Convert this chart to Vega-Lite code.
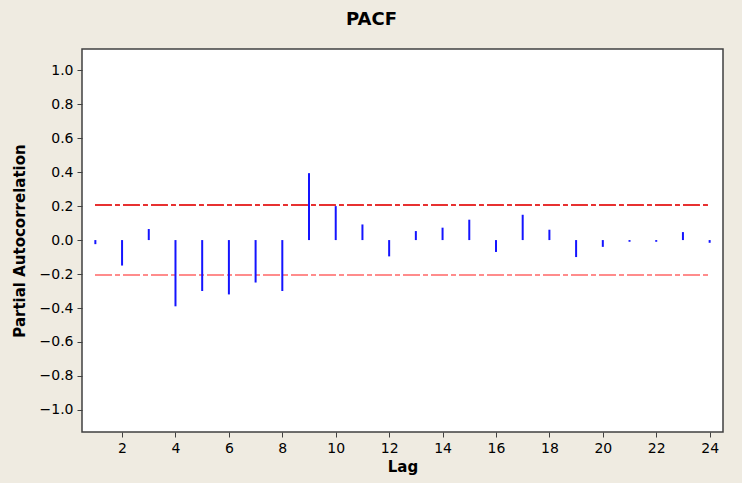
{
  "$schema": "https://vega.github.io/schema/vega-lite/v6.json",
  "width": 641,
  "height": 383,
  "autosize": "none",
  "padding": {"left": 82, "top": 49, "right": 19, "bottom": 51},
  "background": "#efebe1",
  "title": {"text": "PACF", "fontSize": 18, "font": "DejaVu Sans", "fontWeight": "bold", "color": "#000000", "dx": -31, "offset": 20},
  "config": {
    "view": {"fill": "#ffffff", "stroke": "#404040", "strokeWidth": 1.5},
    "axis": {"labelFont": "DejaVu Sans", "titleFont": "DejaVu Sans", "labelColor": "#000000", "titleColor": "#000000", "tickColor": "#404040", "domainColor": "#404040", "grid": false}
  },
  "data": {"values": [
    {"lag": 1, "pacf": -0.024},
    {"lag": 2, "pacf": -0.15},
    {"lag": 3, "pacf": 0.065},
    {"lag": 4, "pacf": -0.39},
    {"lag": 5, "pacf": -0.30},
    {"lag": 6, "pacf": -0.32},
    {"lag": 7, "pacf": -0.25},
    {"lag": 8, "pacf": -0.30},
    {"lag": 9, "pacf": 0.394},
    {"lag": 10, "pacf": 0.20},
    {"lag": 11, "pacf": 0.092},
    {"lag": 12, "pacf": -0.096},
    {"lag": 13, "pacf": 0.053},
    {"lag": 14, "pacf": 0.073},
    {"lag": 15, "pacf": 0.12},
    {"lag": 16, "pacf": -0.07},
    {"lag": 17, "pacf": 0.149},
    {"lag": 18, "pacf": 0.061},
    {"lag": 19, "pacf": -0.10},
    {"lag": 20, "pacf": -0.04},
    {"lag": 21, "pacf": -0.01},
    {"lag": 22, "pacf": -0.01},
    {"lag": 23, "pacf": 0.047},
    {"lag": 24, "pacf": -0.016}
  ]},
  "encoding": {
    "x": {"field": "lag", "type": "quantitative", "scale": {"domain": [0.5, 24.5], "nice": false, "zero": false},
      "axis": {"title": "Lag", "values": [2,4,6,8,10,12,14,16,18,20,22,24], "labelFontSize": 14, "titleFontSize": 15, "titleFontWeight": "bold", "tickSize": 5, "labelPadding": 4, "titlePadding": 4, "domain": false}},
    "y": {"field": "pacf", "type": "quantitative", "scale": {"domain": [-1.13, 1.125], "nice": false, "zero": false},
      "axis": {"title": "Partial Autocorrelation", "values": [-1,-0.8,-0.6,-0.4,-0.2,0,0.2,0.4,0.6,0.8,1], "format": ".1f", "labelFontSize": 14, "titleFontSize": 15, "titleFontWeight": "bold", "tickSize": 5, "labelPadding": 4, "titlePadding": 12, "domain": false}}
  },
  "layer": [
    {"mark": {"type": "rule", "color": "#e63232", "strokeWidth": 1.2, "strokeDash": [16, 4, 4, 4]},
      "encoding": {"x": {"datum": 1}, "x2": {"datum": 24}, "y": {"datum": 0.205}}},
    {"mark": {"type": "rule", "color": "#ff8c8c", "strokeWidth": 1.6, "strokeDash": [16, 4, 4, 4]},
      "encoding": {"x": {"datum": 1}, "x2": {"datum": 24}, "y": {"datum": -0.205}}},
    {"mark": {"type": "rule", "color": "#808080", "strokeWidth": 1.2},
      "encoding": {"y": {"datum": 0}}},
    {"mark": {"type": "rule", "color": "#1414ff", "strokeWidth": 2},
      "encoding": {"y2": {"datum": 0}}}
  ]
}
